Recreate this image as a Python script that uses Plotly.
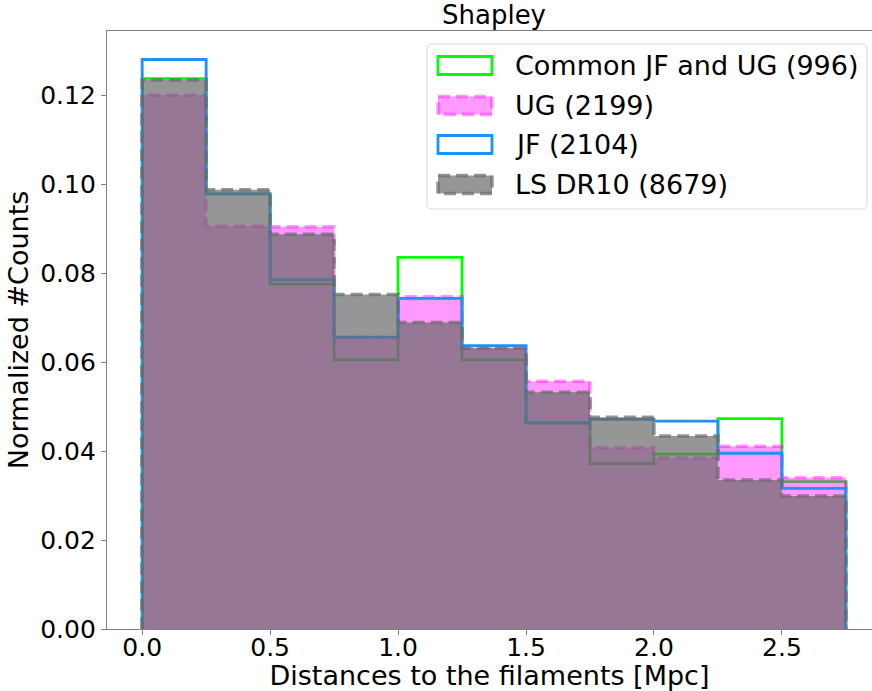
import plotly.graph_objects as go

# ---------------- data ----------------
bin_edges = [0.0, 0.25, 0.5, 0.75, 1.0, 1.25, 1.5, 1.75, 2.0, 2.25, 2.5, 2.75]
common_jf_ug = [0.1237, 0.0978, 0.0775, 0.0605, 0.0835, 0.0605, 0.0462, 0.0372, 0.0393, 0.0473, 0.0331]
ug = [0.1200, 0.0906, 0.0904, 0.0655, 0.0747, 0.0632, 0.0557, 0.0408, 0.0385, 0.0411, 0.0340]
jf = [0.1280, 0.0978, 0.0785, 0.0656, 0.0743, 0.0637, 0.0464, 0.0471, 0.0467, 0.0395, 0.0316]
ls_dr10 = [0.1234, 0.0987, 0.0887, 0.0752, 0.0689, 0.0631, 0.0532, 0.0476, 0.0434, 0.0335, 0.0299]
series_labels = ["Common JF and UG (996)", "UG (2199)", "JF (2104)", "LS DR10 (8679)"]
x_ticks = [0.0, 0.5, 1.0, 1.5, 2.0, 2.5]
y_ticks = [0.00, 0.02, 0.04, 0.06, 0.08, 0.10, 0.12]

# ---------------- styles ----------------
FONT = "DejaVu Sans"
FS = 27
TICK_FS = 25
W, H = 872, 691
ML, MR, MT, MB = 107, 0, 31, 62
PW, PH = W - ML - MR, H - MT - MB
AXIS_GRAY = "#808080"

styles = [
    dict(line=dict(color="#00ff00", width=2.8), fill=None),
    dict(line=dict(color="rgba(255,0,255,0.4)", width=3.5, dash="12px,6px"), fill="rgba(255,0,255,0.4)"),
    dict(line=dict(color="#1e90ff", width=2.8), fill=None),
    dict(line=dict(color="rgba(105,105,105,0.7)", width=3.5, dash="12px,6px"), fill="rgba(105,105,105,0.7)"),
]


def step_xy(edges, vals):
    xs = [edges[0]] + list(edges[:-1]) + [edges[-1], edges[-1]]
    ys = [0.0] + list(vals) + [vals[-1], 0.0]
    return xs, ys


fig = go.Figure()
for vals, lab, st in zip([common_jf_ug, ug, jf, ls_dr10], series_labels, styles):
    xs, ys = step_xy(bin_edges, vals)
    kw = dict(x=xs, y=ys, mode="lines", line_shape="hv", line=st["line"], name=lab, showlegend=False)
    if st["fill"]:
        kw.update(fill="tozeroy", fillcolor=st["fill"])
    fig.add_trace(go.Scatter(**kw))


def px2x(px):
    return (px - ML) / PW


def px2y(py):
    return (H - MB - py) / PH


# ---------------- manual legend (matplotlib-like) ----------------
shapes = []
bx0, by0, bx1, by1, r = 427, 44, 867, 209, 5
X0, X1 = px2x(bx0), px2x(bx1)
Y0, Y1 = px2y(by0), px2y(by1)
rx, ry = r / PW, r / PH
path = (f"M {X0+rx},{Y0} L {X1-rx},{Y0} Q {X1},{Y0} {X1},{Y0-ry} "
        f"L {X1},{Y1+ry} Q {X1},{Y1} {X1-rx},{Y1} L {X0+rx},{Y1} "
        f"Q {X0},{Y1} {X0},{Y1+ry} L {X0},{Y0-ry} Q {X0},{Y0} {X0+rx},{Y0} Z")
shapes.append(dict(type="path", path=path, xref="paper", yref="paper",
                   fillcolor="rgba(255,255,255,0.8)", line=dict(color="#d9d9d9", width=1), layer="above"))

row_centers = [65.5, 105.5, 144.5, 184.5]
annotations = []
for yc, lab, st in zip(row_centers, series_labels, styles):
    shapes.append(dict(type="rect", xref="paper", yref="paper",
                       x0=px2x(438), x1=px2x(492), y0=px2y(yc - 9), y1=px2y(yc + 9),
                       line=st["line"], fillcolor=st["fill"] or "rgba(0,0,0,0)", layer="above"))
    annotations.append(dict(text=lab, xref="paper", yref="paper", x=px2x(513), y=px2y(yc),
                            xanchor="left", yanchor="middle", showarrow=False,
                            font=dict(family=FONT, size=FS, color="black")))

axis_common = dict(showgrid=False, zeroline=False, showline=True, linecolor=AXIS_GRAY, linewidth=1.2,
                   ticks="outside", ticklen=5, tickwidth=1.2, tickcolor=AXIS_GRAY,
                   tickfont=dict(family=FONT, size=TICK_FS, color="black"))

fig.update_layout(
    width=W, height=H,
    margin=dict(l=ML, r=MR, t=MT, b=MB, pad=0),
    paper_bgcolor="white", plot_bgcolor="white",
    title=dict(text="Shapley", x=494 / W, y=1 - 15 / H, xref="container", yref="container",
               xanchor="center", yanchor="middle", font=dict(family=FONT, size=26, color="black")),
    xaxis=dict(range=[-0.1375, 2.852], tickvals=x_ticks, ticktext=[f"{v:.1f}" for v in x_ticks],
               mirror=True, ticklabelstandoff=-9,
               title=dict(text="Distances to the filaments [Mpc]", standoff=9,
                          font=dict(family=FONT, size=FS, color="black")),
               **axis_common),
    yaxis=dict(range=[0, 0.1344], tickvals=y_ticks, ticktext=[f"{v:.2f}" for v in y_ticks],
               title=dict(text="Normalized #Counts", standoff=3,
                          font=dict(family=FONT, size=FS, color="black")),
               **axis_common),
    shapes=shapes,
    annotations=annotations,
)

fig.write_html("out.html", config={"displayModeBar": False})
